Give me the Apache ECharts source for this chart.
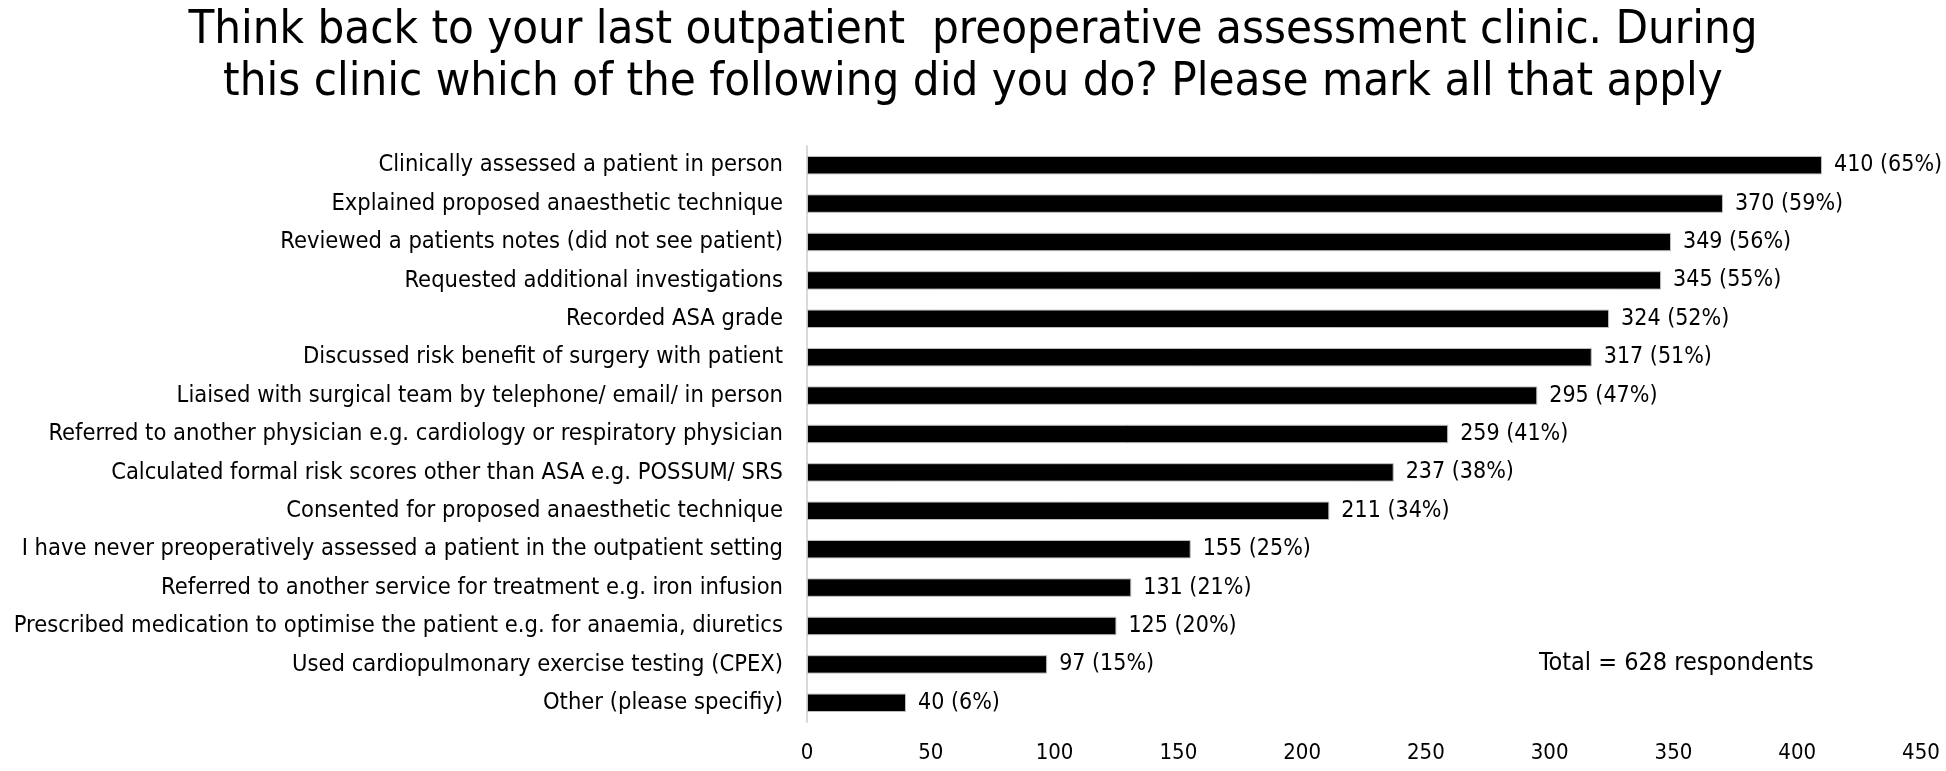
<!DOCTYPE html>
<html><head><meta charset="utf-8">
<script src="https://cdn.jsdelivr.net/npm/echarts@6/dist/echarts.min.js"></script>
<style>html,body{margin:0;padding:0;background:#fff}#c{width:1946px;height:771px}</style>
</head><body><div id="c"></div>
<script>
const categories = [
  "Clinically assessed a patient in person",
  "Explained proposed anaesthetic technique",
  "Reviewed a patients notes (did not see patient)",
  "Requested additional investigations",
  "Recorded ASA grade",
  "Discussed risk benefit of surgery with patient",
  "Liaised with surgical team by telephone/ email/ in person",
  "Referred to another physician e.g. cardiology or respiratory physician",
  "Calculated formal risk scores other than ASA e.g. POSSUM/ SRS",
  "Consented for proposed anaesthetic technique",
  "I have never preoperatively assessed a patient in the outpatient setting",
  "Referred to another service for treatment e.g. iron infusion",
  "Prescribed medication to optimise the patient e.g. for anaemia, diuretics",
  "Used cardiopulmonary exercise testing (CPEX)",
  "Other (please specifiy)"
];
const counts = [410, 370, 349, 345, 324, 317, 295, 259, 237, 211, 155, 131, 125, 97, 40];
const percents = [65, 59, 56, 55, 52, 51, 47, 41, 38, 34, 25, 21, 20, 15, 6];
const xTicks = [0, 50, 100, 150, 200, 250, 300, 350, 400, 450];
const titleText = "Think back to your last outpatient  preoperative assessment clinic. During\nthis clinic which of the following did you do? Please mark all that apply";
const noteText = "Total = 628 respondents";

const FONT = '"DejaVu Sans Condensed", "Liberation Sans Narrow", "Noto Sans", sans-serif';
const chart = echarts.init(document.getElementById('c'));
chart.setOption({
  animation: false,
  backgroundColor: '#fff',
  title: {
    text: titleText, left: 'center', top: 0,
    textStyle: { fontFamily: FONT, fontSize: 47, fontWeight: 'normal', color: '#000', lineHeight: 52 }
  },
  graphic: [{
    type: 'text', left: 1539, top: 651,
    style: { text: noteText, font: '25px ' + FONT, fill: '#000' }
  }],
  grid: { left: 807, right: 25, top: 146, bottom: 49, containLabel: false },
  xAxis: {
    type: 'value', min: xTicks[0], max: xTicks[xTicks.length - 1], interval: 50,
    axisLine: { show: false }, axisTick: { show: false }, splitLine: { show: false },
    axisLabel: { fontFamily: FONT, fontSize: 22, color: '#000', margin: 20 }
  },
  yAxis: {
    type: 'category', inverse: true, data: categories,
    axisLine: { show: true, lineStyle: { color: '#d9d9d9', width: 2 } },
    axisTick: { show: false },
    axisLabel: { fontFamily: FONT, fontSize: 23.5, color: '#000', margin: 24 }
  },
  series: [{
    type: 'bar',
    data: counts,
    barCategoryGap: '52%',
    itemStyle: { color: '#000', borderColor: '#bfbfbf', borderWidth: 1 },
    label: {
      show: true, position: 'right', distance: 12,
      fontFamily: FONT, fontSize: 23, color: '#000',
      formatter: p => counts[p.dataIndex] + ' (' + percents[p.dataIndex] + '%)'
    }
  }]
});
</script></body></html>
